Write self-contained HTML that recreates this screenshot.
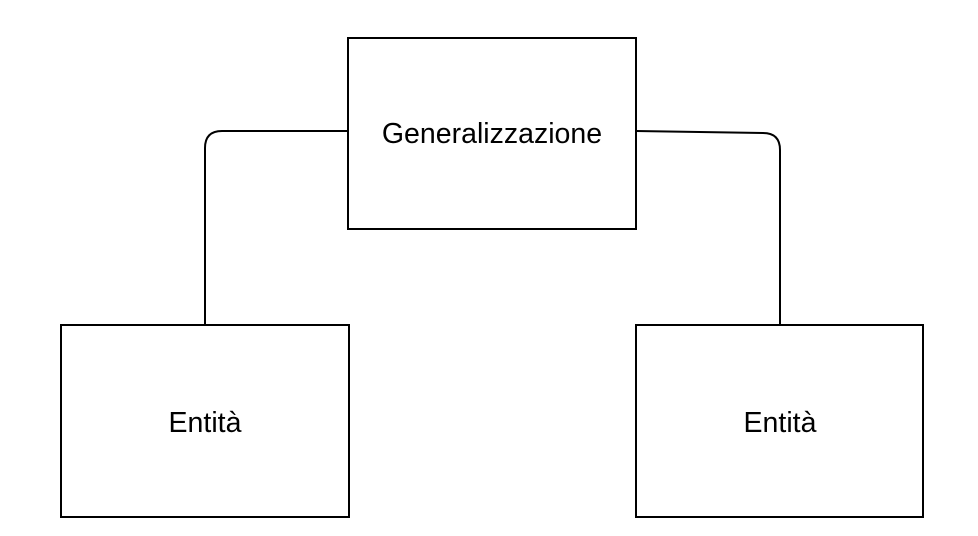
<!DOCTYPE html>
<html><head><meta charset="utf-8"><style>
html,body{margin:0;padding:0;background:#fff;width:978px;height:536px;overflow:hidden}
</style></head><body>
<svg width="978" height="536" xmlns="http://www.w3.org/2000/svg">
<g fill="none" stroke="#000" stroke-width="2">
<rect x="348" y="38" width="288" height="191"/>
<rect x="61" y="325" width="288" height="192"/>
<rect x="636" y="325" width="287" height="192"/>
<path d="M348 131 L222 131 Q205 131 205 148 L205 325"/>
<path d="M636 131 L763 133 Q780 133 780 150 L780 325"/>
</g>
<g font-family="Liberation Sans, sans-serif" font-size="28.5" text-anchor="middle" fill="#000">
<text x="492" y="143">Generalizzazione</text>
<text x="205" y="432">Entità</text>
<text x="780" y="432">Entità</text>
</g>
</svg>
</body></html>
